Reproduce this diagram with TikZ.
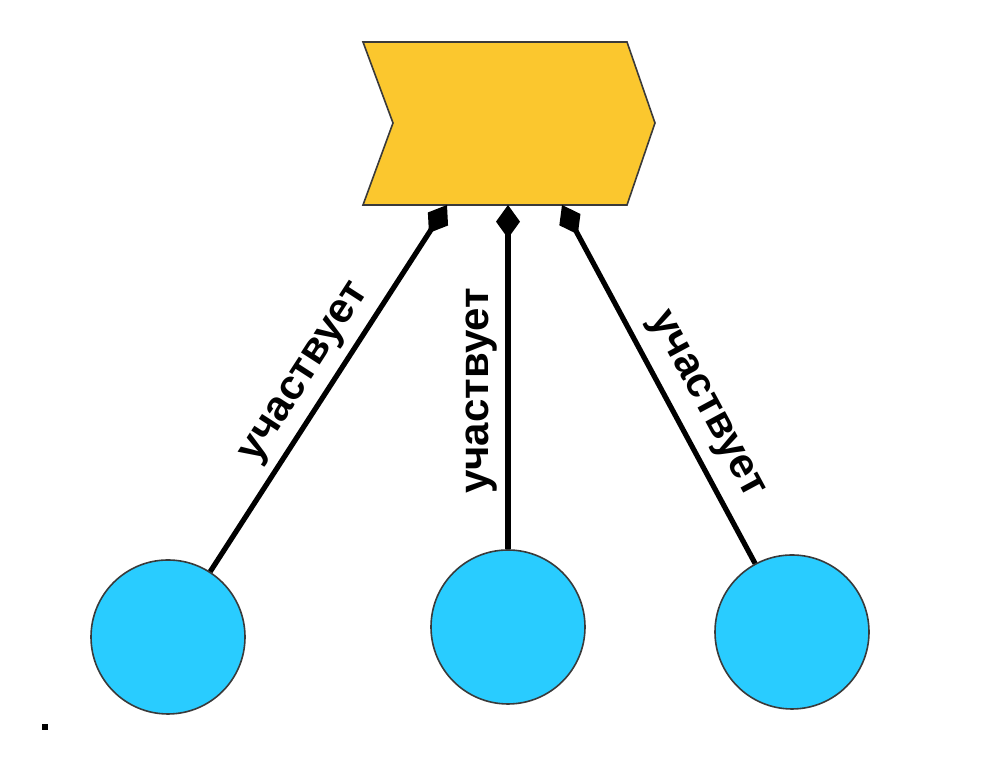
\documentclass[tikz,border=0pt]{standalone}
\usepackage{fontspec}
\setmainfont{Liberation Sans}
\usetikzlibrary{arrows.meta}
\definecolor{chev}{HTML}{FBC72E}
\definecolor{ball}{HTML}{29CCFF}
\definecolor{edge}{HTML}{3A3A3A}
\tikzset{
  ballnode/.style={circle, draw=edge, line width=1.2pt, fill=ball, minimum size=115.5pt, inner sep=0pt},
  link/.style={line width=3.9pt, black},
  dtip/.style={-{Diamond[length=25pt, width=18pt]}},
  dtipstart/.style={{Diamond[length=25pt, width=18pt]}-},
  lbl/.style={sloped, above, inner sep=6pt, font=\fontsize{31.5}{36}\selectfont\bfseries}
}
\begin{document}
\begin{tikzpicture}[x=0.75pt, y=0.75pt]
\useasboundingbox (0,0) rectangle (986,762);
% process chevron
\draw[fill=chev, draw=edge, line width=1.2pt] (363,720) -- (627,720) -- (655,639) -- (627,557) -- (363,557) -- (393,639) -- cycle;
\coordinate (a1) at (447,557);
\coordinate (a2) at (508,557);
\coordinate (a3) at (562,557);
% participants
\node[ballnode] (c1) at (168,125) {};
\node[ballnode] (c2) at (508,135) {};
\node[ballnode] (c3) at (792,130) {};
% connectors
\draw[link, dtip] (c1) -- node[lbl, pos=0.5] {участвует} (a1);
\draw[link, dtip] (c2) -- node[lbl, pos=0.46] {участвует} (a2);
\draw[link, dtipstart] (a3) -- node[lbl, pos=0.6, inner sep=9pt] {участвует} (c3);
% dot
\node[fill=black, inner sep=0pt, minimum size=4.5pt] (dot) at (45,35) {};
\end{tikzpicture}
\end{document}
